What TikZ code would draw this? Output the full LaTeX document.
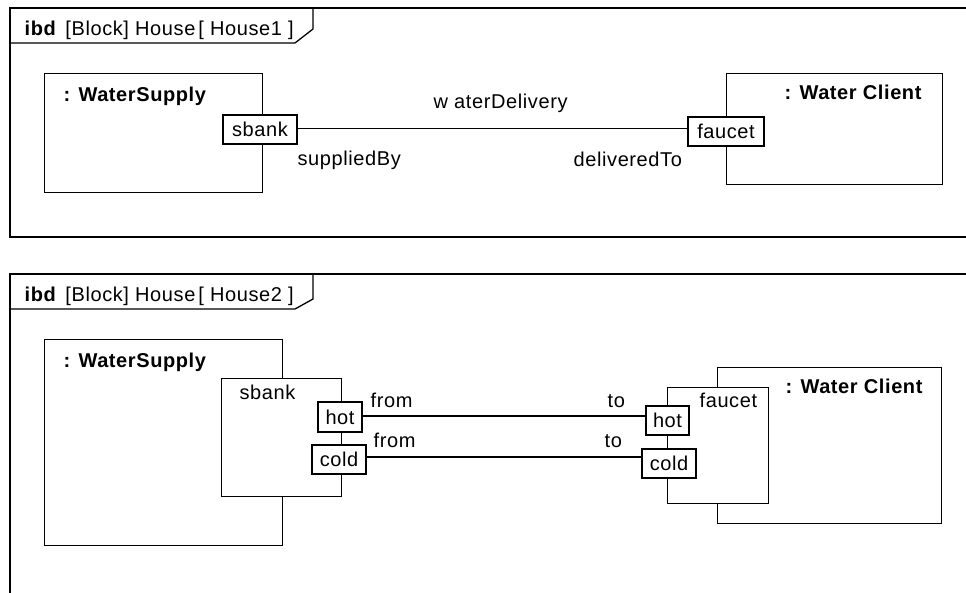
\documentclass[tikz,border=0pt]{standalone}
\usepackage{fontspec}
\setmainfont{Liberation Sans}[LetterSpace=3]
\begin{document}
\begin{tikzpicture}[x=1pt,y=-1pt,line width=1.3pt,
  every node/.style={font=\fontsize{20}{22}\selectfont},
  blockbox/.style={draw,rectangle,inner sep=0pt,anchor=north west},
  partbox/.style={draw,fill=white,rectangle,inner sep=0pt,anchor=north west},
  portbox/.style={draw,fill=white,rectangle,inner sep=0pt},
  lbl/.style={anchor=base west,inner sep=0pt},
  bold/.style={anchor=base west,inner sep=0pt,font=\fontsize{20}{22}\selectfont\bfseries}]
\useasboundingbox (0,0) rectangle (966,592);
\clip (0,0) rectangle (966,592);
% ---------- frame 1 ----------
\draw (980,8) -- (10,8) -- (10,237) -- (980,237);
\draw (10,43) -- (295,43) -- (313,29) -- (313,8);
\node[lbl] (t1) at (24,35) {\textbf{ibd}\hspace{9pt}[Block] House\hspace{3pt}[ House1 ]};
\node[blockbox,minimum width=218pt,minimum height=119pt] (ws1) at (44,73) {};
\node[blockbox,minimum width=216pt,minimum height=111pt] (wc1) at (726,73) {};
\node[bold] (ws1l) at (63,101) {: WaterSupply};
\node[bold] (wc1l) at (784,99) {: Water Client};
\node[portbox,minimum width=74pt,minimum height=29pt] (sbank1) at (260,129.5) {sbank};
\node[portbox,minimum width=76pt,minimum height=29pt] (faucet1) at (726,131.5) {faucet};
\draw (sbank1.east |- 0,128.5) -- (faucet1.west |- 0,128.5);
\node[lbl] (wd) at (433,108) {w aterDelivery};
\node[lbl] (sb) at (297,165) {suppliedBy};
\node[lbl] (dt) at (573,166) {deliveredTo};
% ---------- frame 2 ----------
\draw (980,274) -- (10,274) -- (10,600);
\draw (10,309) -- (295,309) -- (313,299) -- (313,274);
\node[lbl] (t2) at (24,301) {\textbf{ibd}\hspace{9pt}[Block] House\hspace{3pt}[ House2 ]};
\node[blockbox,minimum width=238pt,minimum height=206pt] (ws2) at (44,339) {};
\node[blockbox,minimum width=224pt,minimum height=156pt] (wc2) at (717,367) {};
\node[bold] (ws2l) at (63,367) {: WaterSupply};
\node[bold] (wc2l) at (785,393) {: Water Client};
\node[partbox,minimum width=120pt,minimum height=118pt] (sbank2) at (221,378) {};
\node[lbl] (sbank2l) at (239,399) {sbank};
\node[partbox,minimum width=101pt,minimum height=116pt] (faucet2) at (667,387) {};
\node[lbl] (faucet2l) at (699,407) {faucet};
\node[portbox,minimum width=44pt,minimum height=30pt] (hotL) at (340,417) {hot};
\node[portbox,minimum width=54pt,minimum height=29pt] (coldL) at (339,459.5) {cold};
\node[portbox,minimum width=43pt,minimum height=29pt] (hotR) at (667.5,420.5) {hot};
\node[portbox,minimum width=54pt,minimum height=29pt] (coldR) at (669,463.5) {cold};
\draw (hotL.east |- 0,416) -- (hotR.west |- 0,416);
\draw (coldL.east |- 0,457) -- (coldR.west |- 0,457);
\node[lbl] (f1) at (370,407) {from};
\node[lbl] (f2) at (373,447) {from};
\node[lbl] (to1) at (607,407) {to};
\node[lbl] (to2) at (604,447) {to};
\end{tikzpicture}
\end{document}
